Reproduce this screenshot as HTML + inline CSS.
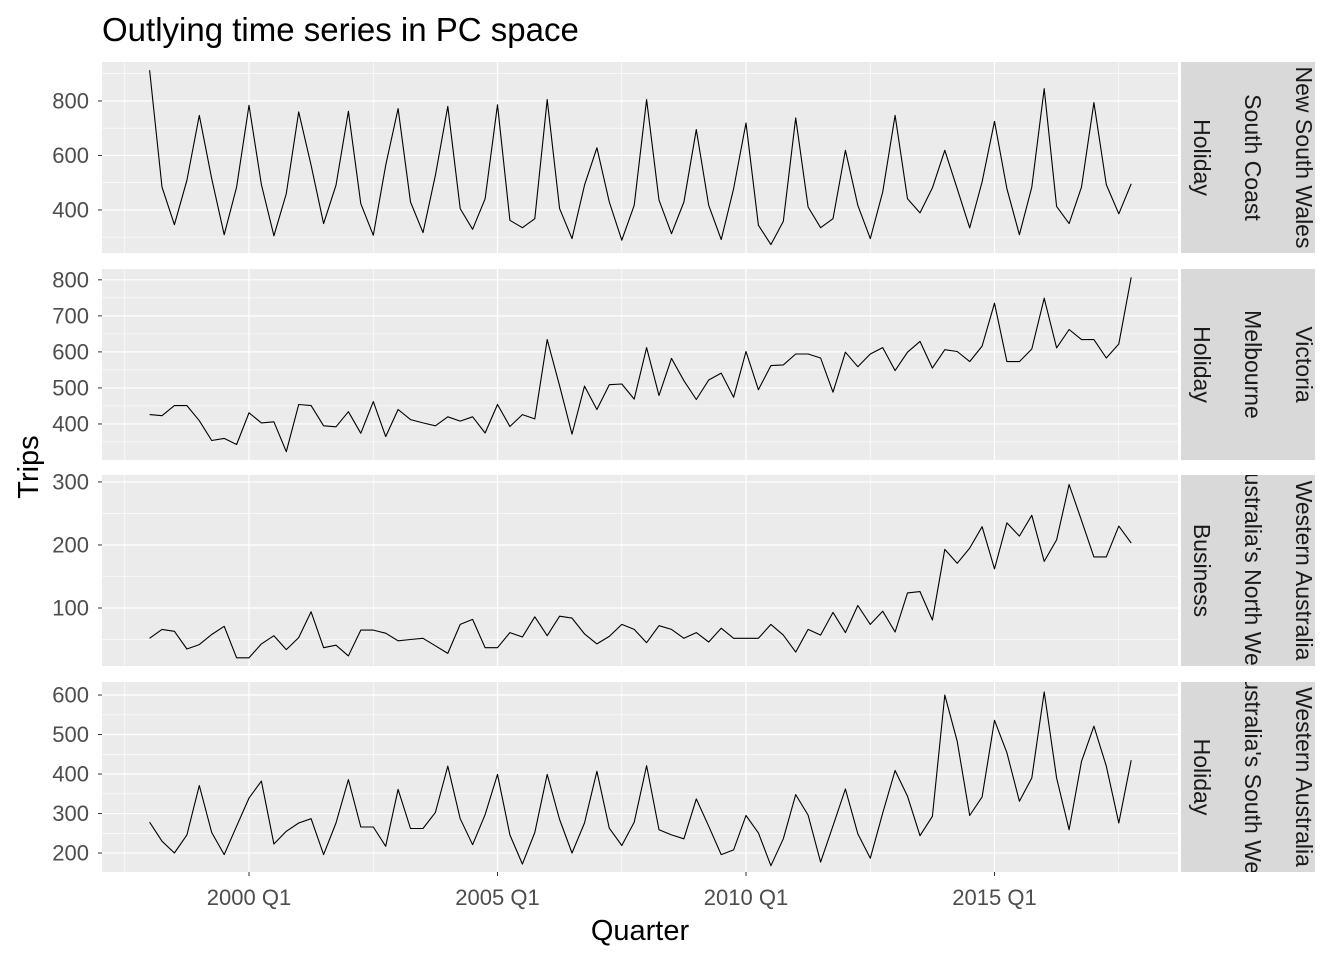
<!DOCTYPE html>
<html><head><meta charset="utf-8"><style>
html,body{margin:0;padding:0;background:#fff;}
svg{display:block;font-family:"Liberation Sans",Arial,sans-serif;}
</style></head><body>
<svg id="chart" width="1344" height="960" viewBox="0 0 1344 960">
<rect width="1344" height="960" fill="#fff"/>
<text x="102" y="41" font-size="33" fill="#000">Outlying time series in PC space</text>
<text x="0" y="0" font-size="29" fill="#000" transform="translate(38,467) rotate(-90)" text-anchor="middle">Trips</text>
<text x="640" y="940" font-size="29" fill="#000" text-anchor="middle">Quarter</text>
<g id="plots"></g>
</svg>
<script>
const startYear = 1998;
const nsw = [913,484,346,509,747,515,309,484,784,493,305,460,760,564,350,491,762,423,307,564,772,429,317,527,780,405,329,441,786,362,335,368,805,405,295,491,628,429,289,417,805,436,313,429,695,417,291,478,719,344,273,358,738,411,335,368,619,417,295,466,747,441,389,481,619,478,334,503,725,478,309,484,845,413,350,484,794,493,386,496];
const vic = [426,423,451,451,409,354,360,343,431,403,406,323,454,451,395,392,434,374,462,365,440,412,403,395,420,408,420,375,454,393,426,414,634,506,372,505,440,509,511,469,612,479,582,520,468,522,541,474,601,495,562,564,594,594,583,488,599,559,594,612,548,599,629,555,606,601,573,616,735,573,573,608,749,611,662,634,634,583,622,807];
const wanw = [52,66,63,35,42,58,71,21,21,43,56,34,53,94,37,41,24,65,65,60,48,50,52,40,28,74,82,37,37,61,54,86,56,87,84,59,43,55,74,66,45,72,66,52,61,46,68,52,52,52,74,57,30,66,57,93,61,104,74,95,62,124,126,81,193,171,195,229,162,235,214,247,174,208,296,239,181,181,230,203];
const wasw = [278,230,200,246,371,252,196,268,339,382,223,255,276,287,196,276,386,266,266,217,361,262,262,303,420,287,221,297,399,246,172,252,399,285,200,276,407,263,219,278,421,259,246,236,337,268,196,208,295,251,168,236,348,296,177,269,362,249,187,301,409,344,244,293,600,483,295,342,536,454,331,390,608,390,259,432,521,420,276,435];
const xTickLabels = ["2000 Q1","2005 Q1","2010 Q1","2015 Q1"];
const xTickYears = [2000,2005,2010,2015];

const panels = [
 {name:"nsw-south-coast-holiday", data:nsw, top:62, bot:253, ymin:242, ymax:943, major:[400,600,800], minor:[300,500,700,900], strip:["Holiday","South Coast","New South Wales"]},
 {name:"victoria-melbourne-holiday", data:vic, top:269, bot:460, ymin:300, ymax:830, major:[400,500,600,700,800], minor:[350,450,550,650,750], strip:["Holiday","Melbourne","Victoria"]},
 {name:"wa-north-west-business", data:wanw, top:475, bot:666, ymin:8, ymax:311, major:[100,200,300], minor:[50,150,250], strip:["Business","Australia's North West","Western Australia"]},
 {name:"wa-south-west-holiday", data:wasw, top:682, bot:872, ymin:152, ymax:633, major:[200,300,400,500,600], minor:[250,350,450,550], strip:["Holiday","Australia's South West","Western Australia"]}
];
const X0=102, X1=1178;
function xScale(t){ return 249 + (t-2000)*49.7; }
const NS="http://www.w3.org/2000/svg";
const root=document.getElementById("plots");
function mk(tag,attrs,parent){const e=document.createElementNS(NS,tag);for(const k in attrs)e.setAttribute(k,attrs[k]);(parent||root).appendChild(e);return e;}

panels.forEach((p,pi)=>{
  const y=v=>p.bot-(v-p.ymin)/(p.ymax-p.ymin)*(p.bot-p.top);
  const g=mk("g",{});
  
  
  mk("rect",{x:X0,y:p.top,width:X1-X0,height:p.bot-p.top,fill:"#ebebeb"},g);
  p.minor.forEach(v=>{const yy=y(v); if(yy>p.top&&yy<p.bot) mk("line",{x1:X0,x2:X1,y1:yy,y2:yy,stroke:"#fff","stroke-width":0.6},g);});
  [1997.5,2002.5,2007.5,2012.5,2017.5].forEach(t=>{const xx=xScale(t);mk("line",{x1:xx,x2:xx,y1:p.top,y2:p.bot,stroke:"#fff","stroke-width":0.6},g);});
  p.major.forEach(v=>{const yy=y(v);mk("line",{x1:X0,x2:X1,y1:yy,y2:yy,stroke:"#fff","stroke-width":1.2},g);
    mk("line",{x1:X0-4,x2:X0,y1:yy,y2:yy,stroke:"#333","stroke-width":1},g);
    const t=mk("text",{x:X0-13,y:yy+7.5,"font-size":"22",fill:"#4d4d4d","text-anchor":"end"},g);
    t.textContent=v;
    
    });
  xTickYears.forEach(t=>{const xx=xScale(t);mk("line",{x1:xx,x2:xx,y1:p.top,y2:p.bot,stroke:"#fff","stroke-width":1.2},g);});
  const pts=p.data.map((v,i)=>xScale(startYear+i/4).toFixed(1)+","+y(v).toFixed(1)).join(" ");
  const line=mk("polyline",{points:pts,fill:"none",stroke:"#000","stroke-width":1.1,"stroke-linejoin":"round"},g);
  
  
  const cid="clip"+pi;
  const cp=mk("clipPath",{id:cid},g);
  mk("rect",{x:1181,y:p.top,width:134,height:p.bot-p.top},cp);
  const sg=mk("g",{"clip-path":"url(#"+cid+")"},g);
  
  
  mk("rect",{x:1181,y:p.top,width:134,height:p.bot-p.top,fill:"#d9d9d9"},sg);
  const cy=(p.top+p.bot)/2;
  [1194,1245,1296].forEach((sx,k)=>{
    const t=mk("text",{x:0,y:0,"font-size":"23",fill:"#1a1a1a","text-anchor":"middle",transform:"translate("+sx+","+cy+") rotate(90)"},sg);
    t.textContent=p.strip[k];
    
    
  });
});
xTickYears.forEach((t,i)=>{
  const xx=xScale(t);
  mk("line",{x1:xx,x2:xx,y1:872,y2:876,stroke:"#333","stroke-width":1});
  const tx=mk("text",{x:xx,y:905,"font-size":"22",fill:"#4d4d4d","text-anchor":"middle"});
  tx.textContent=xTickLabels[i];
  
  
});
</script>
</body></html>
